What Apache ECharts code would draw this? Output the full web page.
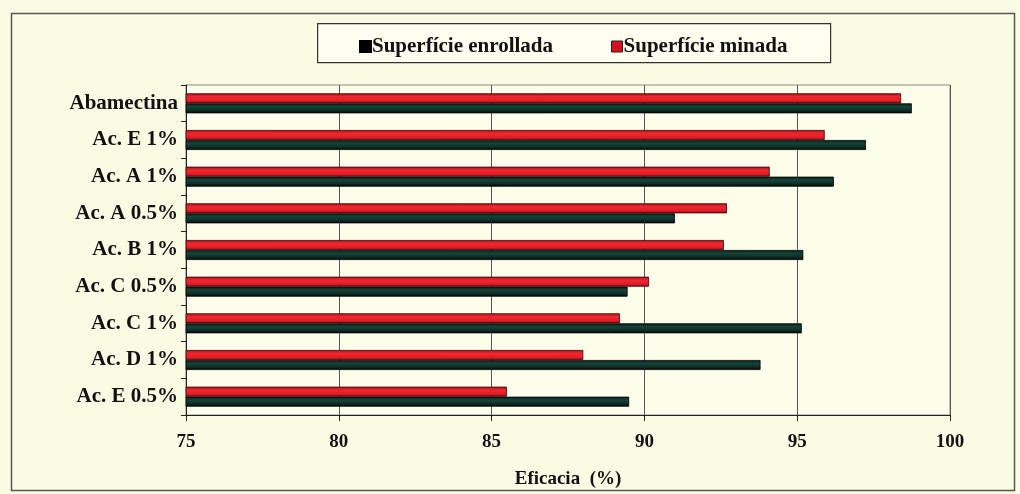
<!DOCTYPE html>
<html>
<head>
<meta charset="utf-8">
<script src="https://cdn.jsdelivr.net/npm/echarts@6/dist/echarts.min.js"></script>
<style>
html,body{margin:0;padding:0;background:#fbfbe4;}
#c{width:1020px;height:494px;}
</style>
</head>
<body>
<div id="c"></div>
<script>
// Categories listed top to bottom as in the picture
const categories = ['Abamectina','Ac. E 1%','Ac. A 1%','Ac. A 0.5%','Ac. B 1%','Ac. C 0.5%','Ac. C 1%','Ac. D 1%','Ac. E 0.5%'];
const enrollada = [98.75, 97.25, 96.2, 91.0, 95.2, 89.45, 95.15, 93.8, 89.5];
const minada    = [98.4, 95.9, 94.1, 92.7, 92.6, 90.15, 89.2, 88.0, 85.5];
const xTicks = [75, 80, 85, 90, 95, 100];
const seriesNames = ['Superfície enrollada', 'Superfície minada'];

const font = '"Liberation Serif", "Times New Roman", serif';
const chart = echarts.init(document.getElementById('c'));

const blackGrad = new echarts.graphic.LinearGradient(0, 0, 0, 1, [
  {offset: 0, color: '#0b1e18'},
  {offset: 0.35, color: '#15433a'},
  {offset: 0.7, color: '#0d2e26'},
  {offset: 1, color: '#020504'}
]);
const redGrad = new echarts.graphic.LinearGradient(0, 0, 0, 1, [
  {offset: 0, color: '#b01018'},
  {offset: 0.35, color: '#f02830'},
  {offset: 0.75, color: '#e01c26'},
  {offset: 1, color: '#8a0a10'}
]);

chart.setOption({
  backgroundColor: '#fbfbe4',
  animation: false,
  graphic: [{
    type: 'rect', left: 9, top: 11, silent: true, z: -1,
    shape: {width: 1003, height: 477},
    style: {fill: 'none', stroke: '#555', lineWidth: 1.5}
  }, {
    type: 'rect', left: 317, top: 23, silent: true, z: -1,
    shape: {width: 513, height: 39},
    style: {fill: '#fdfdf0', stroke: '#333', lineWidth: 1.2}
  }],
  legend: {
    top: 31, left: 354,
    itemWidth: 11, itemHeight: 11, itemGap: 58,
    icon: 'rect',
    textStyle: {fontFamily: font, fontWeight: 'bold', fontSize: 21, color: '#111', padding: [0, 0, 0, -4]},
    data: [
      {name: seriesNames[0], itemStyle: {color: '#000'}},
      {name: seriesNames[1], itemStyle: {color: '#d8101c', borderColor: '#222', borderWidth: 1}}
    ]
  },
  grid: {left: 186, right: 70, top: 85, bottom: 79, outerBoundsMode: 'none', containLabel: false,
    show: true, borderColor: '#888', borderWidth: 1, backgroundColor: '#fdfdeb'},
  xAxis: {
    type: 'value', min: 75, max: 100, interval: 5,
    name: 'Eficacia  (%)', nameLocation: 'middle', nameGap: 55,
    nameTextStyle: {fontFamily: font, fontWeight: 'bold', fontSize: 19, color: '#111'},
    axisLine: {show: true, lineStyle: {color: '#222'}},
    axisTick: {show: true, length: 6, lineStyle: {color: '#222'}},
    axisLabel: {fontFamily: font, fontWeight: 'bold', fontSize: 19, color: '#111', margin: 18,
      formatter: v => xTicks.includes(v) ? String(v) : ''},
    splitLine: {show: true, lineStyle: {color: '#555', width: 1}}
  },
  yAxis: {
    type: 'category',
    data: categories.slice().reverse(),
    axisLine: {show: true, lineStyle: {color: '#222'}},
    axisTick: {show: true, length: 5, lineStyle: {color: '#222'}},
    axisLabel: {fontFamily: font, fontWeight: 'bold', fontSize: 21, color: '#111', margin: 8}
  },
  series: [{
    name: seriesNames[1], type: 'bar',
    data: minada.slice().reverse(),
    barWidth: 10, barGap: '0%',
    itemStyle: {color: redGrad, borderColor: '#300', borderWidth: 0.8}
  }, {
    name: seriesNames[0], type: 'bar',
    data: enrollada.slice().reverse(),
    barWidth: 10, barGap: '0%',
    itemStyle: {color: blackGrad, borderColor: '#000', borderWidth: 0.8}
  }]
});
</script>
</body>
</html>
